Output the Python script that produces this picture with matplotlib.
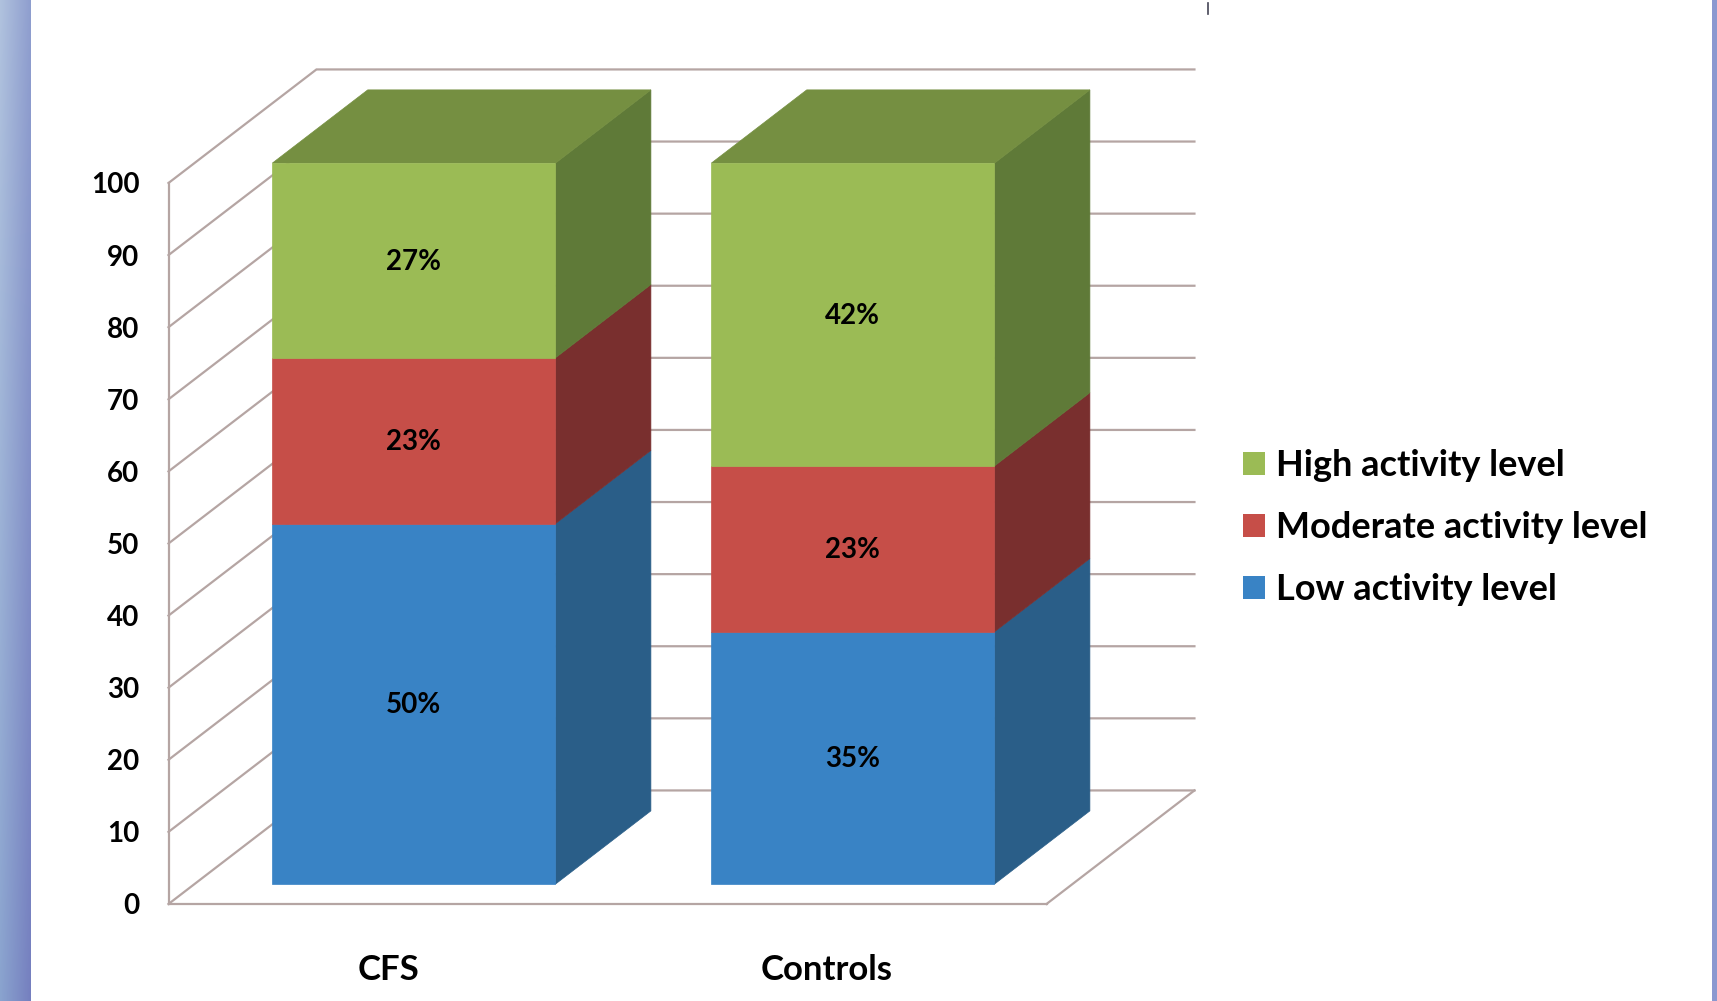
import numpy as np
import matplotlib
matplotlib.use('Agg')
import matplotlib.pyplot as plt
from matplotlib.patches import Polygon, Patch

plt.rcParams['font.family'] = ['Lato', 'DejaVu Sans']
plt.rcParams['font.weight'] = 'bold'

groups = ['CFS', 'Controls']
low = [50, 35]
moderate = [23, 23]
high = [27, 42]
low_labels = ['50%', '35%']
moderate_labels = ['23%', '23%']
high_labels = ['27%', '42%']
yticks = [0, 10, 20, 30, 40, 50, 60, 70, 80, 90, 100]
legend_names = ['High activity level', 'Moderate activity level', 'Low activity level']

W, H = 1717, 1001
GRID = '#b5a5a3'

# fake 3d: depth is a shear in data units
DEPTH_X = 0.337
DEPTH_Y = 15.75
BAR_W = 0.645
D_FRONT = 0.175
D_BACK = 0.82

fig = plt.figure(figsize=(W / 100, H / 100), dpi=100, facecolor='white')

# slide border on both sides
left = fig.add_axes([0, 0, 30 / W, 1])
left_top = np.array([[0.69, 0.76, 0.87], [0.56, 0.62, 0.81]])
left_bot = np.array([[0.54, 0.64, 0.81], [0.46, 0.50, 0.75]])
ramp = np.linspace(0, 1, 60)[:, None, None]
tt = np.linspace(0, 1, 30)[None, :, None]
grad = (1 - ramp) * ((1 - tt) * left_top[0] + tt * left_top[1]) + ramp * ((1 - tt) * left_bot[0] + tt * left_bot[1])
left.imshow(grad, aspect='auto', interpolation='bilinear')
left.axis('off')
right = fig.add_axes([1712 / W, 0, 5 / W, 1])
right.set_facecolor('#8b98d0')
right.set_xticks([])
right.set_yticks([])
for s in right.spines.values():
    s.set_visible(False)

ax = fig.add_axes([168.5 / W, (H - 904) / H, 878 / W, 721 / H])
ax.set_xlim(-0.5, 1.5)
ax.set_ylim(0, 100)
ax.patch.set_alpha(0)

for s in ['top', 'right']:
    ax.spines[s].set_visible(False)
for s in ['left', 'bottom']:
    ax.spines[s].set_color(GRID)
    ax.spines[s].set_linewidth(1.6)

ax.set_yticks(yticks)
ax.set_xticks([0, 1])
ax.set_xticklabels(groups)
ax.tick_params(axis='y', length=0, pad=21, labelsize=20)
ax.tick_params(axis='x', length=0, pad=36, labelsize=25)

# side wall and back wall lines
for v in yticks:
    ax.plot([-0.5, -0.5 + DEPTH_X, 1.5 + DEPTH_X],
            [v, v + DEPTH_Y, v + DEPTH_Y],
            color=GRID, lw=1.6, clip_on=False, zorder=1, solid_joinstyle='miter')
ax.plot([1.5, 1.5 + DEPTH_X], [0, DEPTH_Y], color=GRID, lw=1.6, clip_on=False, zorder=1)


def draw_segment(x, y0, y1, front, side):
    xl = x - BAR_W / 2 + D_FRONT * DEPTH_X
    xr = xl + BAR_W
    ox = (D_BACK - D_FRONT) * DEPTH_X
    oy = (D_BACK - D_FRONT) * DEPTH_Y
    base = D_FRONT * DEPTH_Y
    ax.add_patch(Polygon([(xr, base + y0), (xr + ox, base + y0 + oy),
                          (xr + ox, base + y1 + oy), (xr, base + y1)],
                         facecolor=side, edgecolor=side, lw=0.5, clip_on=False, zorder=3))
    ax.add_patch(Polygon([(xl, base + y0), (xr, base + y0), (xr, base + y1), (xl, base + y1)],
                         facecolor=front, edgecolor=front, lw=0.5, clip_on=False, zorder=4))
    return xl, xr, ox, oy, base


for i in range(len(groups)):
    b1 = low[i]
    b2 = b1 + moderate[i]
    b3 = b2 + high[i]
    draw_segment(i, 0, b1, '#3983c5', '#2a5e88')
    draw_segment(i, b1, b2, '#c64e48', '#792f2e')
    xl, xr, ox, oy, base = draw_segment(i, b2, b3, '#9bbb55', '#5f7a38')
    ax.add_patch(Polygon([(xl, base + b3), (xr, base + b3), (xr + ox, base + b3 + oy), (xl + ox, base + b3 + oy)],
                         facecolor='#758f41', edgecolor='#758f41', lw=0.5, clip_on=False, zorder=3))
    mid = xl + BAR_W / 2
    ax.text(mid, base + b1 / 2 - 0.2, low_labels[i], ha='center', va='center', fontsize=20, zorder=5)
    ax.text(mid, base + b1 + moderate[i] / 2 - 0.2, moderate_labels[i], ha='center', va='center', fontsize=20, zorder=5)
    ax.text(mid, base + b2 + high[i] / 2 - 0.2, high_labels[i], ha='center', va='center', fontsize=20, zorder=5)

handles = [Patch(facecolor='#9bbb55'), Patch(facecolor='#c64e48'), Patch(facecolor='#3983c5')]
fig.legend(handles, legend_names, loc='center left',
           bbox_to_anchor=(1243 / W, (H - 527.5) / H), frameon=False, fontsize=26,
           handlelength=0.61, handleheight=0.6, handletextpad=0.3, labelspacing=0.8,
           borderpad=0, borderaxespad=0)

# stray speck at the top edge
fig.add_artist(plt.Line2D([1208 / W, 1208 / W], [(H - 14) / H, (H - 3) / H], color='#445', lw=1.2))

fig.savefig('out.png', dpi=100)
